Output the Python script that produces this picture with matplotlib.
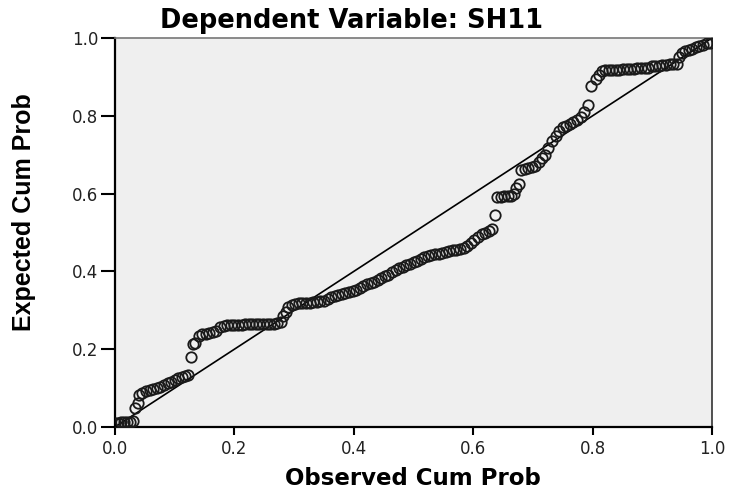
import matplotlib
matplotlib.use('Agg')
import matplotlib.pyplot as plt

# Normal P-P plot of regression standardized residual.
observed = [
    0.000, 0.005, 0.010, 0.015, 0.020, 0.025, 0.030,
    0.033, 0.038, 0.041,
    0.046, 0.052, 0.058, 0.064, 0.070, 0.076, 0.082, 0.088, 0.094, 0.100,
    0.106, 0.112, 0.118, 0.123,
    0.127, 0.130, 0.134, 0.140, 0.146, 0.152, 0.158, 0.164, 0.170, 0.176,
    0.182, 0.188, 0.194, 0.200, 0.206, 0.212, 0.218, 0.224, 0.230, 0.236,
    0.242, 0.248, 0.254, 0.260, 0.266, 0.272, 0.278,
    0.282, 0.286, 0.290, 0.296, 0.302, 0.308, 0.314, 0.320, 0.326, 0.332,
    0.338, 0.344, 0.350,
    0.356, 0.362, 0.368, 0.374, 0.380, 0.386, 0.392, 0.398, 0.404, 0.410,
    0.416, 0.422, 0.428, 0.434, 0.440,
    0.446, 0.452, 0.458, 0.464, 0.470, 0.476, 0.482, 0.488, 0.494, 0.500,
    0.506, 0.512, 0.518, 0.524, 0.530, 0.536, 0.542, 0.548, 0.554, 0.560,
    0.566, 0.572, 0.578, 0.584, 0.590, 0.596, 0.602, 0.608, 0.614, 0.620,
    0.626, 0.632,
    0.636, 0.640, 0.646, 0.652, 0.658, 0.664, 0.668, 0.672, 0.676,
    0.680, 0.686, 0.692, 0.698, 0.704, 0.710, 0.715, 0.720, 0.726, 0.732,
    0.738, 0.744, 0.750, 0.756, 0.762, 0.768, 0.774, 0.780, 0.786, 0.792,
    0.798, 0.805, 0.810, 0.815,
    0.821, 0.827, 0.833, 0.839, 0.845, 0.851, 0.857, 0.863, 0.869, 0.875,
    0.881, 0.887, 0.893, 0.899, 0.905, 0.911, 0.917, 0.923, 0.929, 0.935,
    0.941, 0.945, 0.949, 0.955, 0.961, 0.967, 0.973, 0.979, 0.985, 0.991,
    0.997,
]
expected = [
    0.010, 0.010, 0.012, 0.012, 0.013, 0.013, 0.015,
    0.049, 0.062, 0.082,
    0.088, 0.092, 0.094, 0.097, 0.100, 0.104, 0.108, 0.112, 0.116, 0.120,
    0.125, 0.129, 0.132, 0.134,
    0.180, 0.213, 0.217, 0.234, 0.238, 0.240, 0.242, 0.244, 0.248, 0.256,
    0.260, 0.262, 0.262, 0.263, 0.263, 0.263, 0.264, 0.264, 0.264, 0.264,
    0.265, 0.265, 0.265, 0.266, 0.266, 0.267, 0.270,
    0.285, 0.296, 0.308, 0.314, 0.316, 0.318, 0.318, 0.319, 0.320, 0.321,
    0.322, 0.323, 0.325,
    0.330, 0.334, 0.338, 0.340, 0.342, 0.344, 0.347, 0.350, 0.353, 0.358,
    0.363, 0.367, 0.370, 0.373, 0.377,
    0.383, 0.388, 0.392, 0.398, 0.404, 0.408, 0.412, 0.416, 0.420, 0.424,
    0.428, 0.432, 0.436, 0.439, 0.442, 0.444, 0.446, 0.448, 0.450, 0.452,
    0.454, 0.456, 0.458, 0.461, 0.466, 0.473, 0.480, 0.488, 0.496, 0.500,
    0.505, 0.510,
    0.546, 0.590, 0.592, 0.593, 0.594, 0.595, 0.600, 0.615, 0.625,
    0.660, 0.664, 0.667, 0.668, 0.670, 0.680, 0.692, 0.700, 0.718, 0.736,
    0.748, 0.760, 0.770, 0.775, 0.780, 0.785, 0.790, 0.798, 0.810, 0.828,
    0.877, 0.895, 0.905, 0.914,
    0.917, 0.918, 0.918, 0.919, 0.919, 0.920, 0.920, 0.921, 0.921, 0.922,
    0.922, 0.923, 0.924, 0.927, 0.928, 0.929, 0.930, 0.931, 0.932, 0.932,
    0.933, 0.950, 0.962, 0.966, 0.970, 0.973, 0.976, 0.980, 0.983, 0.986,
    0.988,
]
ticks = [0.0, 0.2, 0.4, 0.6, 0.8, 1.0]
tick_labels = ['0.0', '0.2', '0.4', '0.6', '0.8', '1.0']


def main():
    fig = plt.figure(figsize=(7.31, 4.93), dpi=100)
    ax = fig.add_axes([115 / 731, 66 / 493, 597 / 731, 389 / 493])
    ax.set_facecolor('#efefef')

    # Diagonal reference line.
    ax.plot([0, 1], [0, 1], color='black', linewidth=1.2, zorder=2)
    ax.plot(observed, expected, 'o', markerfacecolor='none',
            markeredgecolor='#1a1a1a', markersize=7.5, markeredgewidth=1.3,
            zorder=3)

    ax.set_xlim(0, 1)
    ax.set_ylim(0, 1)
    ax.set_xticks(ticks)
    ax.set_xticklabels(tick_labels)
    ax.set_yticks(ticks)
    ax.set_yticklabels(tick_labels)
    ax.tick_params(direction='out', width=1.5, colors='black',
                   labelsize=12, labelcolor='#222222')
    ax.tick_params(axis='x', length=6, pad=3)
    ax.tick_params(axis='y', length=10, pad=2)

    for side in ['left', 'bottom']:
        ax.spines[side].set_linewidth(1.6)
        ax.spines[side].set_color('black')
    ax.spines['top'].set_color('#777777')
    ax.spines['top'].set_linewidth(1.2)
    ax.spines['right'].set_color('#333333')
    ax.spines['right'].set_linewidth(1.2)

    fig.text(351 / 731, 1 - 28 / 493, 'Dependent Variable: SH11',
             ha='center', va='baseline', fontsize=18.5, fontweight='bold',
             family='DejaVu Sans')
    fig.text(413 / 731, 1 - 485 / 493, 'Observed Cum Prob',
             ha='center', va='baseline', fontsize=16.5, fontweight='bold',
             family='DejaVu Sans')
    fig.text(24 / 731, 1 - 212 / 493, 'Expected Cum Prob',
             ha='center', va='center', rotation=90, fontsize=18,
             fontweight='bold', family='Liberation Sans')

    fig.savefig('out.png', dpi=100, facecolor='white')


if __name__ == '__main__':
    main()
